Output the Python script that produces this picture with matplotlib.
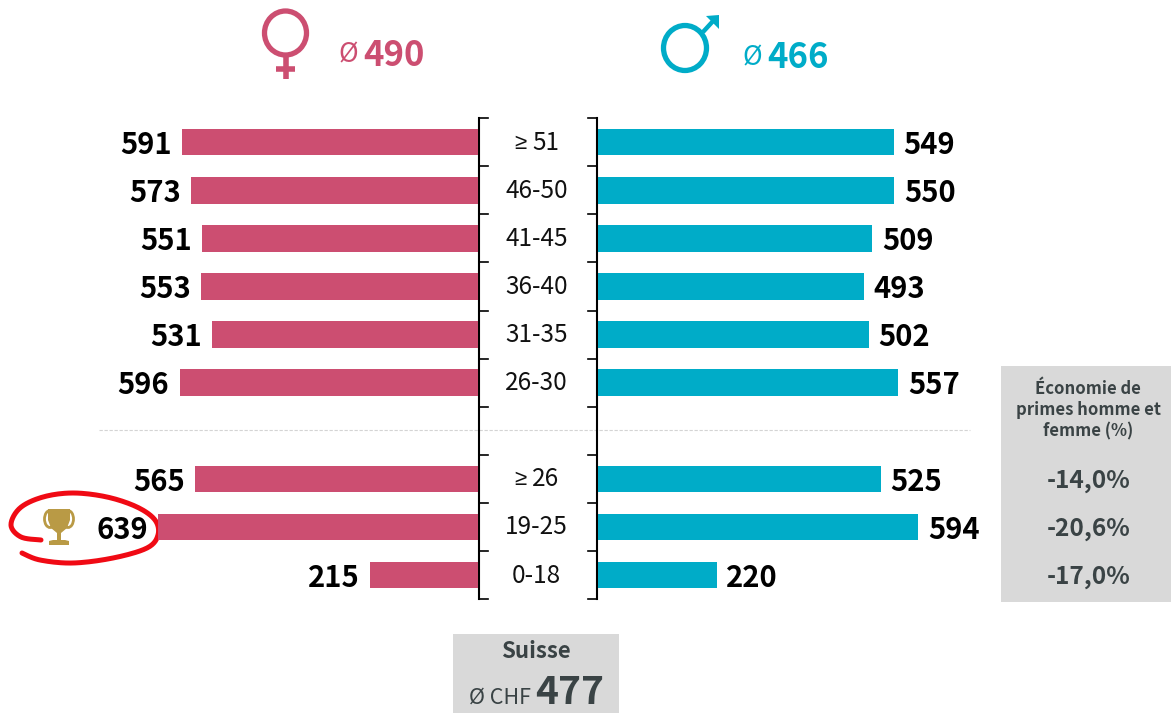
"""Primes moyennes par age et sexe, bars left and right of a central age column."""
import matplotlib
matplotlib.use('Agg')
import matplotlib.pyplot as plt
from matplotlib.patches import Ellipse, PathPatch, Polygon, Rectangle
from matplotlib.path import Path
import numpy as np

plt.rcParams['font.family'] = ['Noto Sans CJK SC', 'DejaVu Sans']

age_labels = ['≥ 51', '46-50', '41-45', '36-40', '31-35', '26-30', '', '≥ 26', '19-25', '0-18']
femmes = [591, 573, 551, 553, 531, 596, None, 565, 639, 215]
hommes = [549, 550, 509, 493, 502, 557, None, 525, 594, 220]
economie = ['-14,0%', '-20,6%', '-17,0%']
moy_femmes = 490
moy_hommes = 466
moy_suisse = 477

PINK = '#cc4e71'
TEAL = '#00acc8'
DARK = '#3a4345'
GREY = '#d9d9d9'
GOLD = '#b99a45'
W, H = 1171, 713
ROW0, ROW_H = 142.2, 48.1


def spline(pts, n=16):
    """Catmull-Rom through hand read points, for the red pen stroke."""
    p = np.array(pts, float)
    p = np.vstack([p[0], p, p[-1]])
    out = []
    for i in range(1, len(p) - 2):
        t = np.linspace(0, 1, n)[:, None]
        out.append(0.5 * (2 * p[i] + (p[i + 1] - p[i - 1]) * t
                          + (2 * p[i - 1] - 5 * p[i] + 4 * p[i + 1] - p[i + 2]) * t ** 2
                          + (3 * p[i] - p[i - 1] - 3 * p[i + 1] + p[i + 2]) * t ** 3))
    return np.vstack(out)


fig = plt.figure(figsize=(W / 100, H / 100), dpi=100)
fig.patch.set_facecolor('white')

# overlay in pixel coordinates for boxes, symbols and brackets
over = fig.add_axes([0, 0, 1, 1])
over.set_xlim(0, W)
over.set_ylim(H, 0)
over.axis('off')

# bar axes: same rows, different scales on each side as in the source
ylim = ((H - ROW0) / ROW_H, -ROW0 / ROW_H)
ax_l = fig.add_axes([0, 0, 478 / W, 1])
ax_l.set_xlim(478 / 0.5008, 0)
ax_r = fig.add_axes([598 / W, 0, (W - 598) / W, 1])
ax_r.set_xlim(0, (W - 598) / 0.539)
for ax in (ax_l, ax_r):
    ax.set_ylim(*ylim)
    ax.axis('off')
    ax.patch.set_alpha(0)

for i, (f, h) in enumerate(zip(femmes, hommes)):
    if f is None:
        continue
    ax_l.barh(i, f, height=26.5 / ROW_H, color=PINK)
    ax_r.barh(i, h, height=26.5 / ROW_H, color=TEAL)
    ax_l.annotate(str(f), (f, i), xytext=(-7.3, -2), textcoords='offset points', ha='right',
                  va='center', fontsize=21, fontweight='bold', color='black')
    ax_r.annotate(str(h), (h, i), xytext=(7, -2), textcoords='offset points', ha='left',
                  va='center', fontsize=21, fontweight='bold', color='black')

# central age column with its brackets
for i, lab in enumerate(age_labels):
    y = ROW0 + ROW_H * i + 0.5
    if lab.startswith('≥'):
        # the CJK face has a slanted sign, so it is set apart
        over.text(520.5, y + 0.5, '≥', ha='center', va='center', fontsize=16, color='#111111',
                  family=['Liberation Sans', 'DejaVu Sans'])
        over.text(545.5, y, lab[2:], ha='center', va='center', fontsize=17.5, color='#111111')
    else:
        over.text(536.5, y, lab, ha='center', va='center', fontsize=17.5, color='#111111')
edges = ROW0 - ROW_H / 2 + ROW_H * np.arange(len(age_labels) + 1)
over.plot([479, 479], [edges[0], edges[-1]], color='black', lw=1.5, zorder=5)
over.plot([597, 597], [edges[0], edges[-1]], color='black', lw=1.5, zorder=5)
for y in edges:
    over.plot([479, 488], [y, y], color='black', lw=1.2, zorder=5)
    over.plot([588, 597], [y, y], color='black', lw=1.2, zorder=5)

over.plot([99, 970], [430, 430], color='#d4d4d4', lw=0.8, ls=(0, (3, 1.5)))

# female and male symbols
over.add_patch(Ellipse((285.5, 33), 42, 44, fc='none', ec=PINK, lw=3.8))
over.plot([285.5, 285.5], [55, 79], color=PINK, lw=4, solid_capstyle='butt')
over.plot([276, 295], [68.5, 68.5], color=PINK, lw=4, solid_capstyle='butt')
over.add_patch(Ellipse((685, 48), 43, 45, fc='none', ec=TEAL, lw=3.8))
over.plot([703, 714], [32, 20], color=TEAL, lw=3.2, solid_capstyle='butt')
over.add_patch(Polygon([(719, 15), (719, 29), (706, 16)], fc=TEAL, ec='none'))

over.text(338.5, 55, 'Ø', fontsize=19, color=PINK, va='center', ha='left')
over.text(363.5, 55, str(moy_femmes), fontsize=25, fontweight='bold', color=PINK, va='center', ha='left')
over.text(742, 58, 'Ø', fontsize=19, color=TEAL, va='center', ha='left')
over.text(767, 57, str(moy_hommes), fontsize=25, fontweight='bold', color=TEAL, va='center', ha='left')

# grey side panel
over.add_patch(Rectangle((1001, 366), 170, 236, fc=GREY, ec='none'))
over.text(1088, 410, 'Économie de\nprimes homme et\nfemme (%)', ha='center', va='center',
          fontsize=12, fontweight='bold', color=DARK, linespacing=1.22)
for i, val in zip([7, 8, 9], economie):
    over.text(1088.5, ROW0 + ROW_H * i + 2, val, ha='center', va='center', fontsize=17.6,
              fontweight='bold', color=DARK)

# grey bottom box
over.add_patch(Rectangle((453, 634), 166, 79, fc=GREY, ec='none'))
over.text(536, 651, 'Suisse', ha='center', va='center', fontsize=16, fontweight='bold', color=DARK)
over.text(469, 698, 'Ø CHF', ha='left', va='center', fontsize=15.5, color=DARK)
over.text(535, 693, str(moy_suisse), ha='left', va='center', fontsize=28, fontweight='bold', color=DARK)

# trophy
over.add_patch(Polygon([(48, 509), (70, 509), (70, 520), (67, 528), (61, 533), (61, 540), (65, 540),
                        (69, 541), (69, 545), (49, 545), (49, 541), (53, 540), (57, 540), (57, 533),
                        (51, 528), (48, 520)], fc=GOLD, ec='none'))
over.add_patch(Ellipse((50, 519), 11, 17, fc='none', ec=GOLD, lw=2))
over.add_patch(Ellipse((68, 519), 11, 17, fc='none', ec=GOLD, lw=2))

# red pen stroke round the best value
stroke = spline([(41, 540), (21, 537), (11, 525), (20, 508), (43, 497), (73, 493), (107, 497),
                 (137, 507), (155, 520), (158, 535), (147, 548), (113, 558), (73, 563),
                 (40, 560), (22, 553)])
over.add_patch(PathPatch(Path(stroke), fc='none', ec='#f00a14', lw=3.6, capstyle='round', zorder=6))

fig.savefig('out.png', dpi=100)
plt.close(fig)
